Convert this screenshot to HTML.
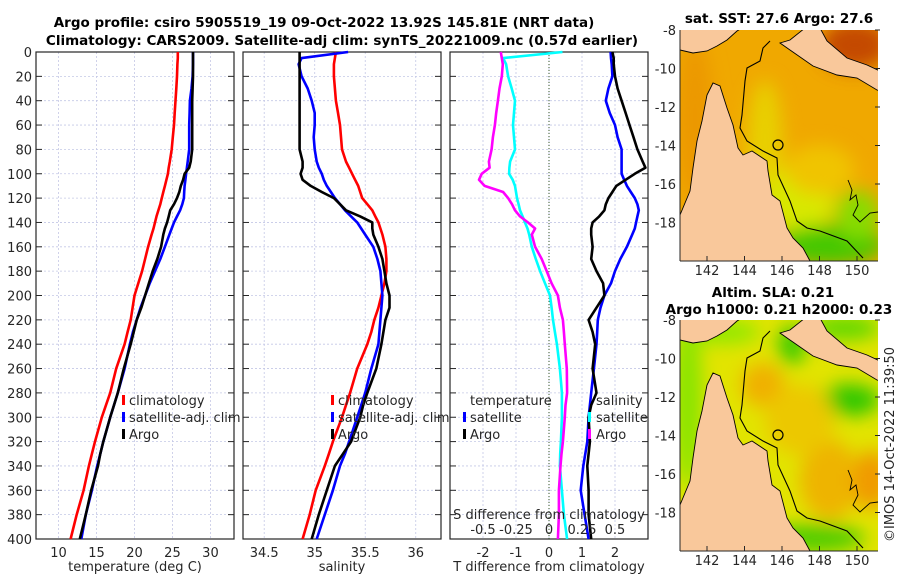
<!DOCTYPE html>
<html><head><meta charset="utf-8"><style>
body{margin:0;background:#fff}
svg{display:block;font-family:"DejaVu Sans","Liberation Sans",sans-serif}
.t{font-size:13px;fill:#262626}
.b{font-size:13.5px;font-weight:bold;fill:#000}
</style></head><body>
<svg id="fig" width="900" height="580" viewBox="0 0 900 580" xmlns="http://www.w3.org/2000/svg">
<defs>
<filter id="bl" x="-20%" y="-20%" width="140%" height="140%"><feGaussianBlur stdDeviation="9"/></filter>
<clipPath id="c1"><rect x="680" y="30" width="198" height="231"/></clipPath>
<clipPath id="c2"><rect x="680" y="320" width="198" height="231"/></clipPath>
</defs>
<text class="b" x="324" y="27" text-anchor="middle">Argo profile: csiro 5905519_19 09-Oct-2022 13.92S 145.81E (NRT data)</text>
<text class="b" x="342" y="45" text-anchor="middle">Climatology: CARS2009. Satellite-adj clim: synTS_20221009.nc (0.57d earlier)</text>
<g id="panels"></g>
<g id="maps"></g>
<text class="t" x="0" y="0" transform="translate(894,542) rotate(-90)">©IMOS 14-Oct-2022 11:39:50</text>
</svg>
<script>
const depths=[0,5,10,20,30,40,50,60,70,80,90,95,100,105,110,115,120,125,130,135,140,145,150,160,170,180,190,200,210,220,230,240,260,280,290,300,320,330,340,360,380,400];
// temperature (deg C)
const tempClim=[25.7,25.7,25.65,25.6,25.5,25.4,25.3,25.2,25.05,24.9,24.65,24.5,24.4,24.2,24.0,23.8,23.6,23.4,23.15,22.9,22.7,22.5,22.25,21.8,21.4,21.0,20.5,20.0,19.75,19.5,19.1,18.7,17.6,16.8,16.25,15.7,14.8,14.4,14.0,13.3,12.4,11.6];
const tempSat=[27.7,27.7,27.7,27.65,27.5,27.3,27.25,27.2,27.2,27.2,27.0,26.9,26.8,26.7,26.6,26.55,26.5,26.3,26.0,25.6,25.2,24.9,24.6,24.0,23.4,22.7,22.0,21.4,20.8,20.3,19.8,19.4,18.7,17.8,17.3,16.8,15.9,15.5,15.1,14.4,13.6,13.0];
const tempArgo=[27.7,27.7,27.7,27.7,27.65,27.6,27.6,27.6,27.6,27.6,27.4,27.2,26.6,26.4,26.1,25.9,25.6,25.2,24.7,24.5,24.3,24.0,23.8,23.5,23.0,22.4,21.9,21.4,20.9,20.3,19.9,19.5,18.6,17.8,17.3,16.8,15.9,15.5,15.2,14.3,13.6,12.8];
// salinity
const salClim=[35.21,35.2,35.19,35.19,35.2,35.21,35.23,35.25,35.26,35.27,35.31,35.34,35.37,35.40,35.43,35.45,35.47,35.52,35.57,35.60,35.63,35.65,35.67,35.70,35.71,35.71,35.69,35.66,35.63,35.59,35.56,35.52,35.42,35.35,35.31,35.27,35.18,35.14,35.10,35.01,34.95,34.88];
const salSat=[35.33,34.87,34.84,34.87,34.93,34.97,35.0,35.0,34.99,35.0,35.02,35.04,35.07,35.09,35.12,35.16,35.2,35.25,35.30,35.36,35.42,35.46,35.5,35.58,35.62,35.65,35.66,35.67,35.66,35.65,35.64,35.63,35.56,35.50,35.46,35.42,35.34,35.30,35.25,35.18,35.10,35.02];
const salArgo=[34.85,34.85,34.85,34.85,34.85,34.85,34.85,34.85,34.85,34.85,34.88,34.88,34.86,34.88,34.96,35.07,35.19,35.25,35.31,35.45,35.57,35.57,35.58,35.63,35.67,35.69,35.71,35.74,35.74,35.70,35.68,35.66,35.61,35.52,35.48,35.45,35.36,35.28,35.2,35.12,35.04,34.97];
// differences from climatology
const tDiffSat=[0.41,-1.39,-1.3,-1.24,-1.13,-1.03,-1.06,-1.09,-1.06,-1.03,-1.18,-1.2,-1.21,-1.1,-1.03,-1.0,-0.97,-0.92,-0.88,-0.8,-0.73,-0.65,-0.6,-0.52,-0.4,-0.27,-0.12,0.03,0.08,0.12,0.18,0.24,0.33,0.39,0.39,0.39,0.36,0.34,0.33,0.39,0.45,0.55];
const tDiffArgo=[-1.46,-1.43,-1.4,-1.43,-1.5,-1.55,-1.6,-1.64,-1.7,-1.74,-1.82,-1.8,-2.04,-2.12,-1.95,-1.39,-1.24,-1.12,-1.03,-0.88,-0.64,-0.42,-0.52,-0.42,-0.22,-0.07,0.08,0.27,0.33,0.42,0.45,0.48,0.54,0.55,0.5,0.48,0.42,0.38,0.35,0.3,0.3,0.27];
const sDiffSat=[0.467,0.47,0.475,0.48,0.45,0.43,0.46,0.5,0.52,0.55,0.55,0.55,0.55,0.57,0.59,0.62,0.65,0.67,0.68,0.67,0.66,0.65,0.63,0.59,0.54,0.5,0.47,0.42,0.39,0.37,0.365,0.36,0.34,0.32,0.31,0.30,0.29,0.275,0.26,0.24,0.27,0.30];
const sDiffArgo=[0.48,0.49,0.49,0.5,0.52,0.55,0.58,0.61,0.64,0.67,0.71,0.73,0.65,0.58,0.51,0.48,0.45,0.43,0.42,0.38,0.33,0.32,0.32,0.33,0.32,0.36,0.41,0.42,0.36,0.30,0.33,0.35,0.33,0.36,0.32,0.30,0.31,0.30,0.29,0.30,0.30,0.32];
const depthTicks=[0,20,40,60,80,100,120,140,160,180,200,220,240,260,280,300,320,340,360,380,400];
const tempTicks=[10,15,20,25,30];
const salTicks=[34.5,35,35.5,36];
const tdTicks=[-2,-1,0,1,2];
const sdTicks=[-0.5,-0.25,0,0.25,0.5];
const sdTickLabels=["-0.5","-0.25","0","0.25","0.5"];
const lonTicks=[142,144,146,148,150];
const latTicks=[-8,-10,-12,-14,-16,-18];

const NS="http://www.w3.org/2000/svg";
function mk(tag,attrs,parent){const e=document.createElementNS(NS,tag);for(const k in attrs)e.setAttribute(k,attrs[k]);parent.appendChild(e);return e;}
const panels=document.getElementById('panels');
const Y0=52,Y1=539;
const yScale=d=>Y0+d/400*(Y1-Y0);
function linScale(d0,d1,r0,r1){return v=>r0+(v-d0)/(d1-d0)*(r1-r0);}

function panel(name,x0,x1,xmin,xmax,ticks,labels,showY,xlabel){
  const g=mk('g',{},panels);
  
  
  const xs=linScale(xmin,xmax,x0,x1);
  depthTicks.forEach(d=>{
    const y=yScale(d);
    const gl=mk('line',{x1:x0,x2:x1,y1:y,y2:y,stroke:'#c4c8e6','stroke-width':0.8,'stroke-dasharray':'2,2'},g);
    
    
    mk('line',{x1:x0,x2:x0+6,y1:y,y2:y,stroke:'#262626','stroke-width':1},g);
    mk('line',{x1:x1-6,x2:x1,y1:y,y2:y,stroke:'#262626','stroke-width':1},g);
    if(showY){const t=mk('text',{x:x0-4,y:y+5,'text-anchor':'end',class:'t'},g);t.textContent=d;
      
      }
  });
  ticks.forEach((v,i)=>{
    const x=xs(v);
    const gl=mk('line',{x1:x,x2:x,y1:Y0,y2:Y1,stroke:'#c4c8e6','stroke-width':0.8,'stroke-dasharray':'2,2'},g);
    
    
    const t=mk('text',{x:x,y:Y1+18,'text-anchor':'middle',class:'t'},g);t.textContent=labels[i];
    
    
  });
  mk('rect',{x:x0,y:Y0,width:x1-x0,height:Y1-Y0,fill:'none',stroke:'#262626','stroke-width':1.2},g);
  const xl=mk('text',{x:(x0+x1)/2,y:571,'text-anchor':'middle',class:'t'},g);xl.textContent=xlabel;
  
  
  return {g,xs};
}
function line(g,xs,vals,color,name){
  const pts=vals.map((v,i)=>xs(v).toFixed(1)+','+yScale(depths[i]).toFixed(1)).join(' ');
  const p=mk('polyline',{points:pts,fill:'none',stroke:color,'stroke-width':2.6,'stroke-linejoin':'round'},g);
  
  
}
function legend(g,x,y,items){
  items.forEach((it,i)=>{
    const yy=y+i*17;
    if(it[0]) mk('rect',{x:x,y:yy-9,width:3,height:10,fill:it[0]},g);
    const t=mk('text',{x:x+it[2],y:yy+1,class:'t'},g);t.textContent=it[1];
    
    
  });
}
const p1=panel('temperature-panel',36,234,7.04,33.1,tempTicks,tempTicks.map(String),true,'temperature (deg C)');
line(p1.g,p1.xs,tempClim,'#ff0000','temp-climatology-line');
line(p1.g,p1.xs,tempSat,'#0000ff','temp-satellite-line');
line(p1.g,p1.xs,tempArgo,'#000000','temp-argo-line');
legend(p1.g,122,404,[['#ff0000','climatology',7],['#0000ff','satellite-adj. clim',7],['#000','Argo',7]]);
const p2=panel('salinity-panel',243,441,34.29,36.25,salTicks,['34.5','35','35.5','36'],false,'salinity');
line(p2.g,p2.xs,salClim,'#ff0000','sal-climatology-line');
line(p2.g,p2.xs,salSat,'#0000ff','sal-satellite-line');
line(p2.g,p2.xs,salArgo,'#000000','sal-argo-line');
legend(p2.g,331,404,[['#ff0000','climatology',7],['#0000ff','satellite-adj. clim',7],['#000','Argo',7]]);
const p3=panel('difference-panel',450,648,-3,3,tdTicks,tdTicks.map(String),false,'T difference from climatology');
const sx=linScale(-0.75,0.75,450,648);
const zl=mk('line',{x1:p3.xs(0),x2:p3.xs(0),y1:Y0,y2:Y1,stroke:'#3a5a2a','stroke-width':1,'stroke-dasharray':'1,2'},p3.g);


line(p3.g,p3.xs,tDiffSat,'#00ffff','tdiff-satellite-line');
line(p3.g,p3.xs,tDiffArgo,'#ff00ff','tdiff-argo-line');
line(p3.g,sx,sDiffSat,'#0000ff','sdiff-satellite-line');
line(p3.g,sx,sDiffArgo,'#000000','sdiff-argo-line');
legend(p3.g,463,404,[[null,'temperature',7],['#0000ff','satellite',7],['#000','Argo',7]]);
legend(p3.g,588,404,[[null,'salinity',8],['#00ffff','satellite',8],['#ff00ff','Argo',8]]);
const sdt=mk('text',{x:549,y:519,'text-anchor':'middle',class:'t'},p3.g);sdt.textContent='S difference from climatology';


sdTicks.forEach((v,i)=>{const t=mk('text',{x:sx(v),y:534,'text-anchor':'middle',class:'t'},p3.g);t.textContent=sdTickLabels[i];
  
  });

const maps=document.getElementById('maps');
const png1="680,28 680,50 693,53 707,51 717,46 727,40 737,31 742,28";
const png2="820,28 827,41 847,58 867,65 880,71 880,91 877,90 857,78 837,75 813,66 790,50 780,43 790,40 805,28";
const cape="713,83 707,95 702,121 697,141 693,168 690,191 680,215 680,263 812,263 810,261 803,248 793,238 787,228 780,201 772,195 768,171 767,161 758,155 752,151 743,155 738,148 733,125 727,108 720,86";
const iso="770,41 763,48 760,61 747,68 745,81 742,115 740,128 747,141 763,151 777,158 778,175 790,201 797,221 807,228 820,231 847,241 863,258";
const islands="848,180 852,190 850,200 856,195 858,205 853,215 860,222 870,213 878,212";
function map(name,top,title,bg,blobs){
  const g=mk('g',{},maps);
  
  
  const dy=top-30;
  const cg=mk('g',{'clip-path':'url(#'+(top===30?'c1':'c2')+')'},g);
  mk('rect',{x:680,y:top,width:198,height:231,fill:bg},cg);
  const bg2=mk('g',{filter:'url(#bl)'},cg);
  blobs.forEach(b=>mk('ellipse',{cx:b[0],cy:b[1]+dy,rx:b[2],ry:b[3],fill:b[4]},bg2));
  const tg=mk('g',{transform:'translate(0,'+dy+')'},cg);
  [png1,png2,cape].forEach(p=>mk('polygon',{points:p,fill:'#f9c89b',stroke:'#000','stroke-width':0.9},tg));
  mk('polyline',{points:iso,fill:'none',stroke:'#000','stroke-width':1.1},tg);
  mk('polyline',{points:islands,fill:'none',stroke:'#000','stroke-width':0.9},tg);
  const c=mk('circle',{cx:778,cy:145,r:5,fill:'none',stroke:'#000','stroke-width':1.2},tg);
  
  
  const lon=linScale(140.56,151.12,680,878), lat=linScale(-8,-20,top,top+231);
  mk('line',{x1:680,x2:680,y1:top,y2:top+231,stroke:'#262626'},g);
  mk('line',{x1:680,x2:878,y1:top+231,y2:top+231,stroke:'#262626'},g);
  lonTicks.forEach(v=>{mk('line',{x1:lon(v),x2:lon(v),y1:top+231,y2:top+226,stroke:'#262626'},g);
    const t=mk('text',{x:lon(v),y:top+245,'text-anchor':'middle',class:'t'},g);t.textContent=v;
    
    });
  latTicks.forEach(v=>{mk('line',{x1:875,x2:880,y1:lat(v),y2:lat(v),stroke:'#262626'},g);
    const t=mk('text',{x:676,y:lat(v)+5,'text-anchor':'end',class:'t'},g);t.textContent=v;
    
    });
  title.forEach((s,i)=>{const t=mk('text',{x:s[1],y:s[2],'text-anchor':'middle',class:'b'},g);t.textContent=s[0];
    
    });
}
map('sst-map',30,[['sat. SST: 27.6 Argo: 27.6',779,23]],'#f0a800',[
 [765,150,18,70,'#e8d000'],[800,200,35,35,'#d8e800'],[820,170,35,25,'#f0c400'],
 [830,245,55,20,'#44c800'],[858,215,22,25,'#88dc00'],[855,45,35,25,'#c44a00'],[695,120,18,80,'#ec9800']]);
map('sla-map',320,[['Altim. SLA: 0.21',773,297],['Argo h1000: 0.21 h2000: 0.23',779,314]],'#e2e400',[
 [688,110,14,90,'#88e400'],[720,42,40,12,'#90e800'],[792,55,14,20,'#40cc00'],[850,110,30,16,'#30c800'],
 [763,95,22,22,'#f0b000'],[830,190,30,40,'#eeb400'],[872,190,18,30,'#f09a00'],[800,130,35,35,'#ecc800'],
 [815,248,50,14,'#50cc00'],[845,38,35,12,'#60d800']]);
</script>
</body></html>
